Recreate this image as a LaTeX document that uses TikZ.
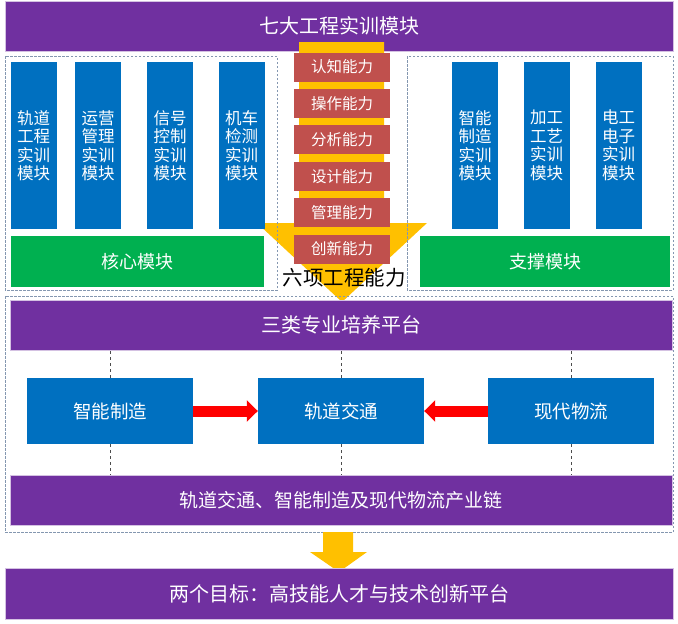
\documentclass[tikz,border=0pt]{standalone}
\usepackage{fontspec}
\newfontfamily\cjk{Noto Sans CJK SC}
\usetikzlibrary{arrows.meta}
\definecolor{morado}{HTML}{7030A0}
\definecolor{azul}{HTML}{0070C0}
\definecolor{verde}{HTML}{00B050}
\definecolor{ladrillo}{HTML}{C0504D}
\definecolor{ambar}{HTML}{FFC000}
\definecolor{borde}{HTML}{8497B0}
\begin{document}
\begin{tikzpicture}[x=1pt,y=-1pt,
    barra/.style={fill=morado,draw=morado!30,line width=0.8pt,text=white,
      font=\cjk\fontsize{20}{24}\selectfont,minimum height=50pt,inner sep=0pt},
    modulo/.style={fill=azul,text=white,font=\cjk\fontsize{16.5}{18.5}\selectfont,
      minimum width=46pt,minimum height=167pt,align=center,inner sep=0pt},
    grupo/.style={fill=verde,text=white,font=\cjk\fontsize{18}{22}\selectfont,
      minimum height=51pt,inner sep=0pt},
    capacidad/.style={fill=ladrillo,text=white,font=\cjk\fontsize{15.5}{18}\selectfont,
      minimum width=96pt,minimum height=29pt,inner sep=0pt},
    area/.style={fill=azul,text=white,font=\cjk\fontsize{18.5}{22}\selectfont,
      minimum width=166pt,minimum height=66pt,inner sep=0pt},
    marco/.style={draw=borde,dash pattern=on 2.5pt off 1.5pt,line width=0.6pt},
    guia/.style={draw=gray!60!black,dashed,line width=0.8pt},
    flecha/.style={red,line width=11pt,-{Triangle[width=21pt,length=11pt]}}]
    \useasboundingbox (0,0) rectangle (678,624);
    % Barra superior
    \node[barra,minimum width=668pt] (siete) at (339,26) {七大工程实训模块};
    % Flecha central
    \fill[ambar] (299,42) -- (384,42) -- (384,223) -- (427,223) -- (342,302)
      -- (257,223) -- (299,223) -- cycle;
    % Marcos de los modulos
    \draw[marco] (5,56) rectangle (277,290);
    \draw[marco] (407,56) rectangle (673,290);
    % Modulos nucleo
    \foreach \x/\t [count=\i] in {33.5/{轨道\\工程\\实训\\模块},98/{运营\\管理\\实训\\模块},
        170/{信号\\控制\\实训\\模块},241.5/{机车\\检测\\实训\\模块}}
      \node[modulo] (izq\i) at (\x,145.5) {\t};
    % Modulos de soporte
    \foreach \x/\t [count=\i] in {475/{智能\\制造\\实训\\模块},546.5/{加工\\工艺\\实训\\模块},
        618.5/{电工\\电子\\实训\\模块}}
      \node[modulo] (der\i) at (\x,145.5) {\t};
    \node[grupo,minimum width=253pt] (nucleo) at (137.5,261.5) {核心模块};
    \node[grupo,minimum width=250pt] (soporte) at (545,261.5) {支撑模块};
    % Seis capacidades
    \foreach \t [count=\i from 0] in {认知能力,操作能力,分析能力,设计能力,管理能力,创新能力}
      \node[capacidad] (cap\i) at (342,{67+36.4*\i}) {\t};
    \node[font=\cjk\fontsize{20.5}{24}\selectfont] (seis) at (344,278) {六项工程能力};
    % Plataformas
    \draw[marco] (5,296) rectangle (673,532);
    \node[barra,minimum width=662pt] (plataforma) at (341,325) {三类专业培养平台};
    \node[area] (zhizao) at (110,411) {智能制造};
    \node[area] (guidao) at (341,411) {轨道交通};
    \node[area] (wuliu) at (571,411) {现代物流};
    \node[barra,minimum width=662pt,font=\cjk\fontsize{19}{22}\selectfont] (cadena) at (341,500)
      {轨道交通、智能制造及现代物流产业链};
    \foreach \n in {zhizao,guidao,wuliu} {
      \draw[guia] (\n.north) -- (\n.north |- plataforma.south);
      \draw[guia] (\n.south) -- (\n.south |- cadena.north);
    }
    \draw[flecha] (zhizao.east) -- (guidao.west);
    \draw[flecha] (wuliu.west) -- (guidao.east);
    % Objetivos
    \fill[ambar] (323,532) -- (353,532) -- (353,552) -- (367,552) -- (339,572)
      -- (310,552) -- (323,552) -- cycle;
    \node[barra,minimum width=668pt,minimum height=51pt] (metas) at (339,593.5)
      {两个目标：高技能人才与技术创新平台};
\end{tikzpicture}
\end{document}
